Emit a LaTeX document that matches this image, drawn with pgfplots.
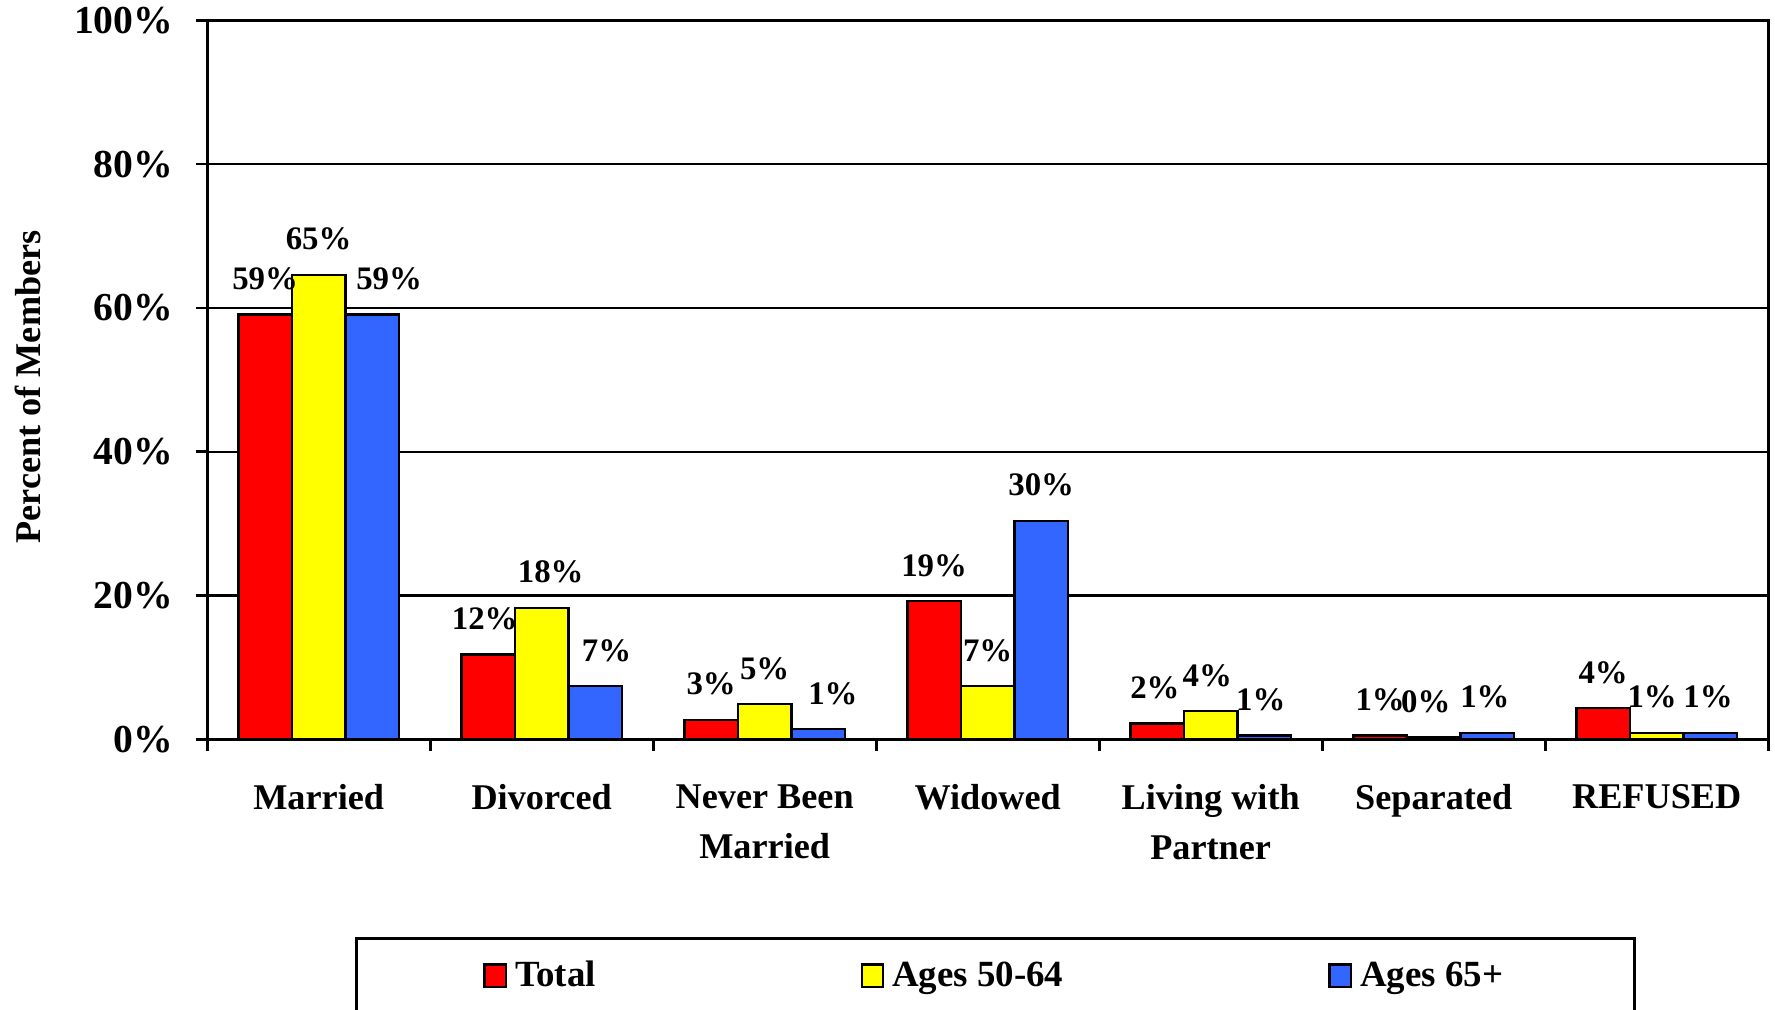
\documentclass[border=0pt]{standalone}
\usepackage{fontspec}
\setmainfont{Liberation Serif}
\usepackage{pgfplots}
\pgfplotsset{compat=1.18}
\usepackage{pgfplotstable}

\definecolor{barred}{RGB}{255,0,0}
\definecolor{baryellow}{RGB}{255,255,0}
\definecolor{barblue}{RGB}{51,102,255}

% marital status, percent of members
% l* = printed label, d* = horizontal nudge of the label (pt)
\pgfplotstableread{
x  tot   a50   a65   ltot l50 l65 dtot d50  d65
0  59.1  64.6  59.1  59   65  59  0    0    7.5
1  11.8  18.3  7.4   12   18  7   -1.5 4    5
2  2.7   4.9   1.4   3    5   1   0    0    6.5
3  19.2  7.4   30.4  19   7   30  0    0    0
4  2.2   3.9   0.5   2    4   1   -1   -1.5 -1.5
5  0.5   0.3   0.9   1    0   1   0    -3.5 -1
6  4.3   0.9   0.9   4    1   1   0    -2   -1
}\status

\begin{document}
\begin{tikzpicture}
\begin{axis}[
  scale only axis, width=689.5pt, height=317.5pt,
  /pgf/number format/assume math mode=true,
  ybar=0pt, bar width=0.24,
  xmin=-0.5, xmax=6.5, ymin=0, ymax=100,
  enlarge x limits=false, enlarge y limits=false,
  axis line style={line width=1.2pt},
  tick style={line width=1.2pt, black},
  tick align=outside, tick pos=left, major tick length=5pt,
  xtick={-0.5,0.5,...,6.5}, xticklabels={},
  extra x ticks={0,...,6},
  extra x tick labels={Married,Divorced,{Never Been\\Married},Widowed,{Living with\\Partner},Separated,REFUSED},
  extra x tick style={major tick length=0pt},
  xticklabel style={align=center, font=\bfseries\fontsize{16}{22}\selectfont, yshift=-16.5pt},
  ytick={0,20,...,100},
  yticklabels={0\%,20\%,40\%,60\%,80\%,100\%},
  yticklabel style={font=\bfseries\fontsize{17.5}{19}\selectfont, xshift=-6.5pt},
  ymajorgrids, grid style={line width=1pt, black},
  ylabel={Percent of Members},
  every axis y label/.style={at={(axis description cs:-0.1146,0.49)}, rotate=90, anchor=center,
    font=\bfseries\fontsize{16}{18}\selectfont},
  point meta=explicit,
  nodes near coords={\pgfmathprintnumber{\pgfplotspointmeta}\%},
  every node near coord/.append style={font=\bfseries\fontsize{14.5}{16}\selectfont, xshift=\dx pt, yshift=7pt},
  legend columns=3,
  legend image code/.code={\draw[#1] (0pt,-5pt) rectangle (9.5pt,5pt);},
  legend style={at={(axis description cs:0.505,-0.2756)}, anchor=north, draw=black, line width=1.2pt,
    inner xsep=56pt, inner ysep=8pt, font=\bfseries\fontsize{16.3}{18}\selectfont,
    /tikz/every odd column/.append style={column sep=1.5pt},
    /tikz/every even column/.append style={column sep=115pt}},
]
\addplot[draw=black, line width=1pt, fill=barred, visualization depends on={\thisrow{dtot} \as \dx}]
  table[x=x, y=tot, meta=ltot] {\status};
\addplot[draw=black, line width=1pt, fill=baryellow, visualization depends on={\thisrow{d50} \as \dx}]
  table[x=x, y=a50, meta=l50] {\status};
\addplot[draw=black, line width=1pt, fill=barblue, visualization depends on={\thisrow{d65} \as \dx}]
  table[x=x, y=a65, meta=l65] {\status};
\legend{Total, Ages 50-64, Ages 65+}
\end{axis}
\pgfresetboundingbox
\path (-91.5pt,-119.5pt) rectangle (692.5pt,326.5pt);
\end{tikzpicture}
\end{document}
